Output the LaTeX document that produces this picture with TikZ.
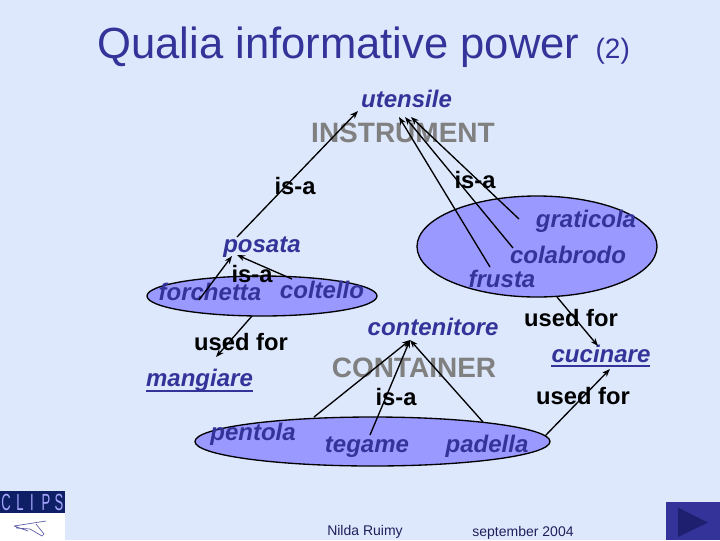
\documentclass[tikz,border=0pt]{standalone}
\usepackage{fontspec}
\setmainfont{Liberation Sans}
\usetikzlibrary{arrows.meta}
\definecolor{bgc}{HTML}{DDE8FC}
\definecolor{blobc}{HTML}{9999FF}
\definecolor{inkc}{HTML}{333399}
\definecolor{grayc}{HTML}{808080}
\definecolor{logoc}{HTML}{0F1F66}
\definecolor{tric}{HTML}{1F1F70}
\tikzset{
  blob/.style={draw=black,fill=blobc,line width=1pt},
  word/.style={text=inkc,font=\fontsize{18}{20}\selectfont\bfseries\itshape,inner sep=0pt,anchor=base},
  rel/.style={text=black,font=\fontsize{17.8}{20}\selectfont\bfseries,inner sep=0pt,anchor=base},
  role/.style={text=grayc,font=\fontsize{21}{23}\selectfont\bfseries,inner sep=0pt,anchor=base},
  foot/.style={text=inkc!60!black,font=\fontsize{10.5}{12}\selectfont,inner sep=0pt,anchor=base},
  link/.style={draw=black,line width=1pt,-{Stealth[length=6pt,width=4.5pt]}},
  logotext/.style={text=white!65!blue,font=\fontsize{14}{16}\selectfont,inner sep=0pt,anchor=base,yscale=1.25,xscale=0.7}
}
\begin{document}
\begin{tikzpicture}[x=0.75pt,y=-0.75pt]
\useasboundingbox (0,0) rectangle (720,540);
\fill[bgc] (0,0) rectangle (720,540);
% title
\node[text=inkc,inner sep=0pt,anchor=base west] (title) at (97,58) {\fontsize{32.7}{36}\selectfont Qualia informative power \hspace{3pt}\fontsize{21}{24}\selectfont (2)};
% blobs
\draw[blob] (537,246.5) ellipse [x radius=120,y radius=50.5];
\draw[blob] (262,296) ellipse [x radius=115,y radius=20];
\draw[blob] (372.5,441.5) ellipse [x radius=177.5,y radius=24.5];
\coordinate (blobTopBottom) at (557,297);
\coordinate (blobLeftBottom) at (252,316);
% words
\node[word] (utensile) at (406.5,107) {utensile};
\node[role] (instrument) at (403,142) {INSTRUMENT};
\node[rel] (isaL) at (295,194) {is-a};
\node[rel] (isaR) at (475,188) {is-a};
\node[word] (graticola) at (586,227) {graticola};
\node[word] (colabrodo) at (568,263) {colabrodo};
\node[word] (frusta) at (502,287) {frusta};
\node[word] (posata) at (262,252) {posata};
\node[rel] (isaM) at (252,282) {is-a};
\node[word] (forchetta) at (210,300) {forchetta};
\node[word] (coltello) at (322,298) {coltello};
\node[rel] (usedA) at (241,350) {used for};
\node[word] (mangiare) at (199.5,386) {mangiare};
\node[word] (contenitore) at (433,335) {contenitore};
\node[rel] (usedB) at (571,326) {used for};
\node[word] (cucinare) at (601,362) {cucinare};
\node[role] (container) at (414,377) {CONTAINER};
\node[rel] (isaB) at (396,405) {is-a};
\node[rel] (usedC) at (583,404) {used for};
\node[word] (pentola) at (253,440) {pentola};
\node[word] (tegame) at (367,452) {tegame};
\node[word] (padella) at (487,452) {padella};
\node[foot] (nilda) at (365,535) {Nilda Ruimy};
\node[foot] (sept) at (523,536) {september 2004};
% underlines
\draw[inkc,line width=1.2pt] (146,391) -- (253,391);
\draw[inkc,line width=1.2pt] (551,366) -- (650,366);
% anchors of connectors
\coordinate (uL) at (358,111);
\coordinate (uA) at (399,117);
\coordinate (uB) at (405,117);
\coordinate (uC) at (411,117);
\coordinate (pTop) at (237,237);
\coordinate (pA) at (232,256);
\coordinate (pB) at (237,255);
\coordinate (cA) at (410,340);
\coordinate (fr) at (490,267);
\coordinate (co) at (513,248);
\coordinate (gr) at (519,219);
\coordinate (fo) at (199,300);
\coordinate (cl) at (292,279);
\coordinate (ma) at (216,357);
\coordinate (pe) at (314,417);
\coordinate (te) at (370,435);
\coordinate (pa) at (483,422);
\coordinate (pr) at (545,436);
\coordinate (cuA) at (598,346);
\coordinate (cuB) at (610,369);
% connectors
\draw[link] (pTop) -- (uL);
\draw[link] (fr) -- (uA);
\draw[link] (co) -- (uB);
\draw[link] (gr) -- (uC);
\draw[link] (fo) -- (pA);
\draw[link] (cl) -- (pB);
\draw[link] (blobLeftBottom) -- (ma);
\draw[link] (pe) -- (cA);
\draw[link] (te) -- (cA);
\draw[link] (pa) -- (cA);
\draw[link] (pr) -- (cuB);
\draw[link] (blobTopBottom) -- (cuA);
% logo
\fill[logoc] (0,491) rectangle (65,513);
\fill[white] (0,513) rectangle (65,540);
\node[logotext] (clogo) at (6,510) {C};
\node[logotext] (llogo) at (20,510) {L};
\node[logotext] (ilogo) at (32,510) {I};
\node[logotext] (plogo) at (46,510) {P};
\node[logotext] (slogo) at (59,510) {S};
\draw[gray!70!blue,line width=0.5pt] (14,526) -- (46,521) (16,528) -- (30,529) -- (42,536) -- (44,534) -- (36,524) (14,526) -- (28,531);
% nav button
\fill[inkc] (666,502) rectangle (720,540);
\fill[tric] (678,507.5) -- (708,522.5) -- (678,537) -- cycle;
\end{tikzpicture}
\end{document}
